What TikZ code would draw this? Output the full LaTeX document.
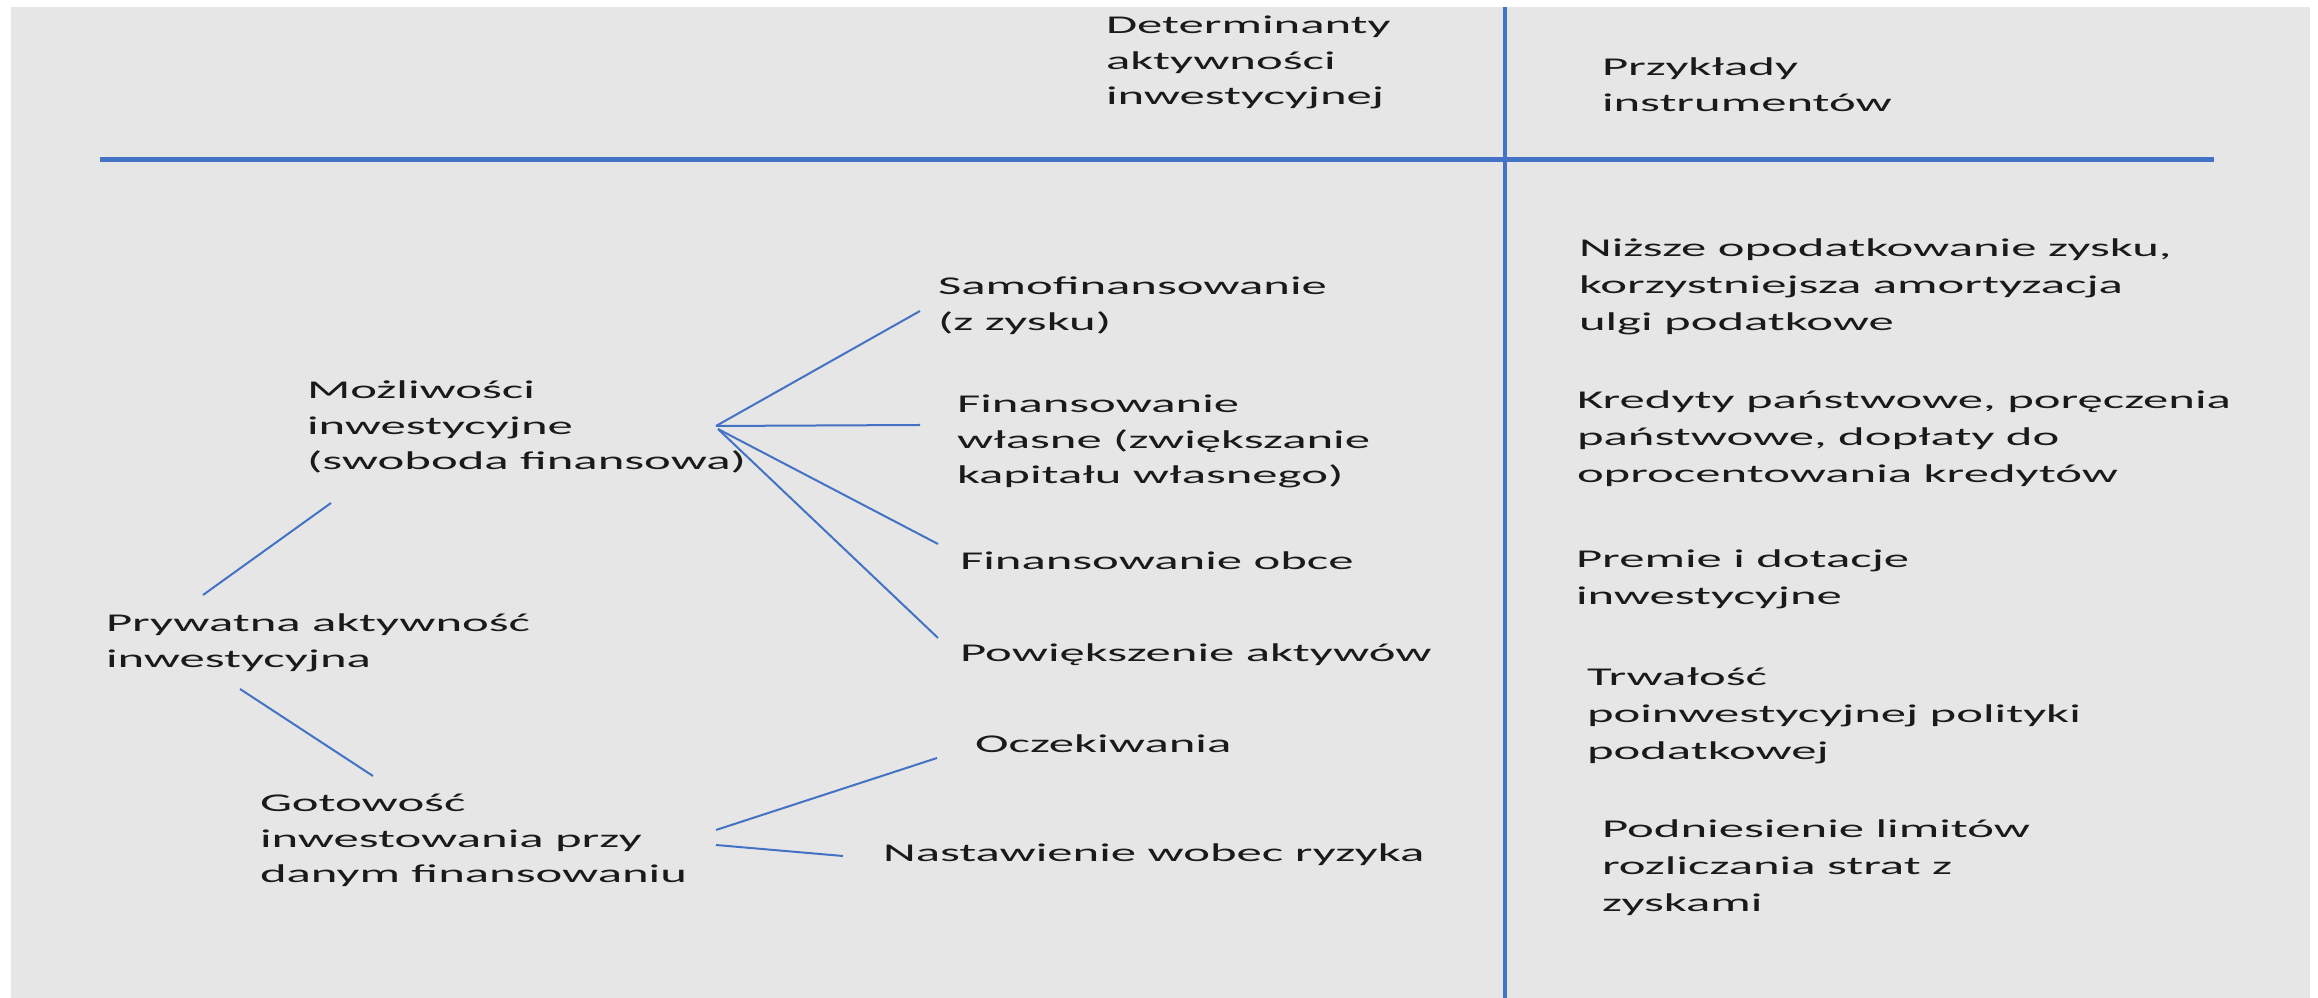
\documentclass[tikz,border=0pt]{standalone}
\usepackage{fontspec}
\setmainfont{Carlito}[FakeStretch=1.98]
\usetikzlibrary{calc}
\definecolor{bggray}{HTML}{E6E6E6}
\definecolor{lineblue}{HTML}{4472C4}
\definecolor{txtcol}{HTML}{1A1A1A}
\newcommand{\mltext}[1]{\begin{tabular}[t]{@{}l@{}}#1\end{tabular}}
\begin{document}
\begin{tikzpicture}[x=0.01cm,y=-0.01cm,
  lbl/.style={anchor=base west,inner sep=0pt,outer sep=0pt,text=txtcol,font=\fontsize{7.28pt}{10.04pt}\selectfont},
  rlbl/.style={lbl,font=\fontsize{7.28pt}{10.47pt}\selectfont},
  rulehead/.style={draw=lineblue,line width=0.05cm},
  rulecol/.style={draw=lineblue,line width=0.042cm},
  conn/.style={draw=lineblue,line width=0.02cm}]
\useasboundingbox (0,0) rectangle (2318,998);
\fill[bggray] (11,7) rectangle (2310,998);
% table rules
\draw[rulehead] (100,160) -- (2214,160);
\draw[rulecol] (1505,7) -- (1505,998);
% headers
\node[lbl] (det) at (1106,34) {\mltext{Determinanty\\aktywności\\inwestycyjnej}};
\node[lbl] (przy) at (1602,76) {\mltext{Przykłady\\instrumentów}};
% left tree
\node[lbl] (mozl) at (307,399) {\mltext{Możliwości\\inwestycyjne\\(swoboda finansowa)}};
\node[lbl] (pryw) at (106,632) {\mltext{Prywatna aktywność\\inwestycyjna}};
\node[lbl] (got) at (260,812) {\mltext{Gotowość\\inwestowania przy\\danym finansowaniu}};
\node[lbl] (samo) at (938,295) {\mltext{Samofinansowanie\\(z zysku)}};
\node[lbl] (fwl) at (957,413) {\mltext{Finansowanie\\własne (zwiększanie\\kapitału własnego)}};
\node[lbl] (fob) at (960,570) {Finansowanie obce};
\node[lbl] (pow) at (960,662) {Powiększenie aktywów};
\node[lbl] (ocz) at (975,753) {Oczekiwania};
\node[lbl] (nast) at (883,862) {Nastawienie wobec ryzyka};
% right column
\node[rlbl] (niz) at (1579,257) {\mltext{Niższe opodatkowanie zysku,\\korzystniejsza amortyzacja\\ulgi podatkowe}};
\node[rlbl] (kred) at (1577,409) {\mltext{Kredyty państwowe, poręczenia\\państwowe, dopłaty do\\oprocentowania kredytów}};
\node[rlbl] (prem) at (1576,568) {\mltext{Premie i dotacje\\inwestycyjne}};
\node[rlbl] (trw) at (1587,686) {\mltext{Trwałość\\poinwestycyjnej polityki\\podatkowej}};
\node[rlbl] (podn) at (1602,838) {\mltext{Podniesienie limitów\\rozliczania strat z\\zyskami}};
% connectors
\coordinate (hub) at ($(mozl.base west)+(409,27)$);
\coordinate (hubb) at ($(mozl.base west)+(411,30)$);
\coordinate (hubg) at ($(got.base west)+(456,18)$);
\coordinate (hubgb) at ($(got.base west)+(456,33)$);
\draw[conn] ($(pryw.base west)+(97,-37)$) -- ($(mozl.base west)+(24,104)$);
\draw[conn] ($(pryw.base west)+(134,57)$) -- ($(got.base west)+(113,-36)$);
\draw[conn] (hub) -- ($(samo.base west)+(-18,16)$);
\draw[conn] (hub) -- ($(fwl.base west)+(-37,12)$);
\draw[conn] (hubb) -- ($(fob.base west)+(-22,-26)$);
\draw[conn] (hubb) -- ($(pow.base west)+(-22,-24)$);
\draw[conn] (hubg) -- ($(ocz.base west)+(-38,5)$);
\draw[conn] (hubgb) -- ($(nast.base west)+(-40,-6)$);
\end{tikzpicture}
\end{document}
